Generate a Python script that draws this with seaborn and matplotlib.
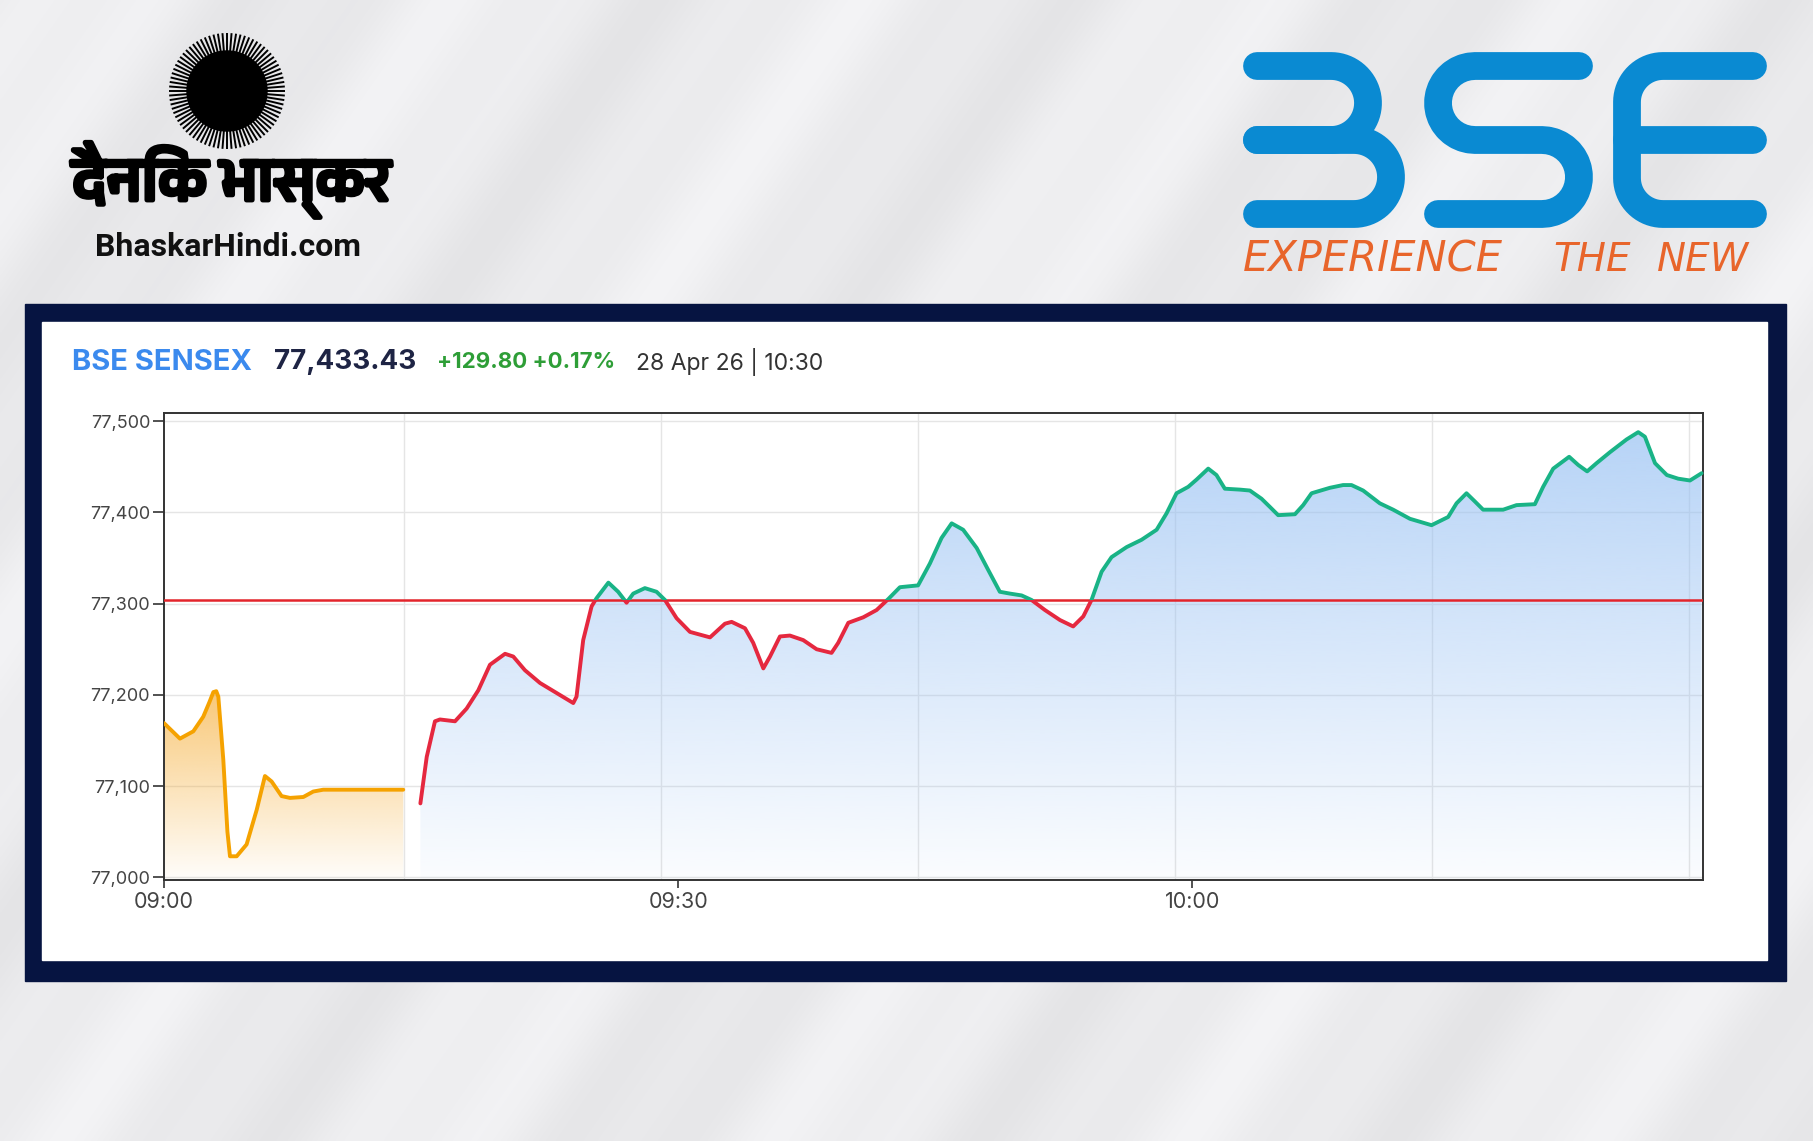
import numpy as np
import pandas as pd
import seaborn as sns
import matplotlib.pyplot as plt
import matplotlib.colors as mcolors
import matplotlib.patheffects as pe
from matplotlib.patches import Rectangle, Circle
from matplotlib.collections import LineCollection
from matplotlib import font_manager

# --- data: minutes after 09:00 ---
pre_min = [0, 0.93, 1.71, 2.29, 2.65, 2.88, 3.05, 3.17, 3.46, 3.7, 3.85, 4.24, 4.82, 5.41,
           5.89, 6.28, 6.86, 7.35, 8.13, 8.71, 9.29, 13.96]
pre_val = [77169, 77152, 77160, 77176, 77192, 77203, 77204, 77198, 77129, 77050, 77023,
           77023, 77036, 77074, 77111, 77105, 77089, 77087, 77088, 77094, 77096, 77096]

main_min = [14.96, 15.33, 15.81, 16.1, 16.98, 17.66, 18.34, 19.02, 19.9, 20.38, 21.06,
            21.94, 22.91, 23.88, 24.07, 24.46, 24.95, 25.24, 25.93, 26.5, 26.99, 27.38,
            28.06, 28.74, 29.23, 29.91, 30.69, 31.86, 32.73, 33.12, 33.9, 34.38, 34.97,
            35.36, 35.94, 36.52, 37.3, 38.08, 38.95, 39.34, 39.93, 40.8, 41.58, 42.26,
            42.94, 44.0, 44.69, 45.37, 45.96, 46.63, 47.42, 48.09, 48.77, 49.36, 50.04,
            50.62, 51.4, 52.28, 53.05, 53.64, 54.12, 54.71, 55.29, 56.17, 57.04, 57.92,
            58.5, 59.08, 59.76, 60.25, 60.93, 61.41, 61.9, 62.78, 63.36, 64.04, 64.53,
            65.01, 65.99, 66.47, 66.96, 68.03, 68.8, 69.29, 69.97, 70.94, 71.72, 72.7,
            73.96, 74.93, 75.42, 76.0, 76.49, 76.97, 78.14, 78.92, 79.99, 80.47, 81.06,
            81.99, 82.52, 83.04, 83.59, 84.37, 85.34, 86.02, 86.41, 87.0, 87.69, 88.35,
            89.04, 89.72]
main_val = [77081, 77132, 77171, 77173, 77171, 77185, 77205, 77233, 77245, 77242, 77227,
            77213, 77202, 77191, 77198, 77260, 77297, 77306, 77323, 77313, 77301, 77311,
            77317, 77313, 77304, 77284, 77269, 77263, 77278, 77280, 77273, 77257, 77229,
            77242, 77264, 77265, 77260, 77250, 77246, 77257, 77279, 77285, 77293, 77305,
            77318, 77320, 77344, 77372, 77388, 77381, 77361, 77337, 77313, 77311, 77309,
            77304, 77293, 77282, 77275, 77286, 77304, 77335, 77351, 77362, 77370, 77381,
            77399, 77421, 77428, 77436, 77448, 77441, 77426, 77425, 77424, 77415, 77406,
            77397, 77398, 77408, 77421, 77427, 77430, 77430, 77424, 77410, 77403, 77393,
            77386, 77395, 77410, 77421, 77412, 77403, 77403, 77408, 77409, 77428, 77448,
            77461, 77452, 77445, 77454, 77466, 77480, 77488, 77483, 77454, 77441, 77437,
            77435, 77443]

prev_close = 77303.63
ltp = 77433.43
change = 129.80
change_pct = 0.17
stamp = '28 Apr 26 | 10:30'

y_ticks = [77000, 77100, 77200, 77300, 77400, 77500]
x_ticks = [0, 30, 60]
x_labels = ['09:00', '09:30', '10:00']
grid_min = [14, 29, 44, 59, 74, 89]

W, H = 1813, 1141
sns.set_style('white')
plt.rcParams['font.family'] = ['Inter', 'DejaVu Sans']

fig = plt.figure(figsize=(W / 100, H / 100), dpi=100)

# backdrop, drawn in pixel coordinates
bg = fig.add_axes([0, 0, 1, 1])
bg.set_xlim(0, W)
bg.set_ylim(H, 0)
bg.axis('off')
yy, xx = np.mgrid[0:H:2, 0:W:2]
u = xx * np.sin(np.radians(55)) + yy * np.cos(np.radians(55))
lum = 0.925 + 0.02 * np.sin(2 * np.pi * u / 310) + 0.01 * np.sin(2 * np.pi * u / 115 + 0.7)
img = np.dstack([lum, lum, np.clip(lum + 0.008, 0, 1)])
bg.imshow(img, extent=[0, W, H, 0], aspect='auto', zorder=0, interpolation='bilinear')

bg.add_patch(Rectangle((25, 304), 1761, 677, color='#061441', zorder=1))
bg.add_patch(Rectangle((42, 322), 1725, 638, color='white', zorder=2))

# Dainik Bhaskar mark
sx, sy = 227, 91
bg.add_patch(Circle((sx, sy), 40, color='black', zorder=3))
ang = np.linspace(0, 2 * np.pi, 80, endpoint=False)
rays = [[(sx + 36 * np.cos(a), sy + 36 * np.sin(a)), (sx + 58 * np.cos(a), sy + 58 * np.sin(a))]
        for a in ang]
bg.add_collection(LineCollection(rays, colors='black', linewidths=1.4, zorder=3))
deva = [f.name for f in font_manager.fontManager.ttflist
        if 'Devanagari' in f.name or 'Lohit' in f.name or 'Mukta' in f.name]
if deva:
    bg.text(231, 180, 'दैनिक भास्कर', fontsize=44, fontweight='bold', ha='center',
            va='center', family=[deva[0], 'DejaVu Sans'], color='black', zorder=3,
            path_effects=[pe.withStroke(linewidth=3.5, foreground='black')])
bg.text(228, 247, 'BhaskarHindi.com', fontsize=23, fontweight='bold', ha='center',
        va='center', family=['Roboto', 'DejaVu Sans'], color='#111', zorder=3)


# BSE mark
def bowl(xl, xr, yt, yb, n=40):
    r = (yb - yt) / 2
    cx, cy = xr - r, (yt + yb) / 2
    t = np.linspace(np.pi / 2, -np.pi / 2, n)
    xs = [xl] + list(cx + r * np.cos(t)) + [xl]
    ys = [yt] + list(cy - r * np.sin(t)) + [yb]
    return xs, ys


def arc(cx, cy, r, a0, a1, n=20):
    t = np.radians(np.linspace(a0, a1, n))
    return list(cx + r * np.cos(t)), list(cy - r * np.sin(t))


blue = '#0a8ad2'
kw = dict(color=blue, lw=20, solid_capstyle='round', solid_joinstyle='round', zorder=3)
T, M, B = 66, 140, 214
for xs, ys in [bowl(1257, 1368, T, M), bowl(1257, 1391, M, B)]:
    bg.plot(xs, ys, **kw)
r = (M - T) / 2
ax1, ay1 = arc(1438 + r, (T + M) / 2, r, 90, 270)
ax2, ay2 = arc(1579 - r, (M + B) / 2, r, 90, -90)
bg.plot([1579] + ax1 + ax2 + [1438], [T] + ay1 + ay2 + [B], **kw)
r = 36
ex1, ey1 = arc(1627 + r, T + r, r, 90, 180)
ex2, ey2 = arc(1627 + r, B - r, r, 180, 270)
bg.plot([1753] + ex1 + ex2 + [1753], [T] + ey1 + ey2 + [B], **kw)
bg.plot([1627, 1753], [M, M], **kw)
for word, x0, fs in [('EXPERIENCE', 1243, 30), ('THE', 1553, 28), ('NEW', 1657, 28)]:
    bg.text(x0, 260, word, fontsize=fs, style='italic', fontweight='light', color='#e8652b',
            va='center', ha='left', family=['DejaVu Sans'], zorder=3)

# header line
hy = 362
bg.text(72, hy, 'BSE SENSEX', fontsize=21, fontweight='bold', color='#3b8aee', va='center', zorder=3)
bg.text(274, hy, f'{ltp:,.2f}', fontsize=20, fontweight='bold', color='#1e2444', va='center', zorder=3)
bg.text(437, hy, f'+{change:.2f} +{change_pct:.2f}%', fontsize=16, fontweight='bold',
        color='#2e9e37', va='center', zorder=3)
bg.text(636, hy, stamp, fontsize=16.5, color='#333333', va='center', zorder=3)

# chart
ax = fig.add_axes([164 / W, 1 - 880 / H, (1703 - 164) / W, (880 - 413) / H], zorder=5)
ax.set_facecolor('white')
y_lo, y_hi = 76997, 77509


def gradient_under(x, y, color, a_top, a_bot, y_top, z):
    fill = ax.fill_between(x, y, y_lo, color='none', lw=0)
    grad = np.zeros((200, 1, 4))
    grad[:, 0, :3] = mcolors.to_rgb(color)
    grad[:, 0, 3] = np.linspace(a_bot, a_top, 200)
    im = ax.imshow(grad, extent=[min(x), max(x), y_lo, y_top], origin='lower',
                   aspect='auto', zorder=z, interpolation='bicubic')
    im.set_clip_path(fill.get_paths()[0], transform=ax.transData)


for v in y_ticks:
    ax.axhline(v, color='#e5e5e5', lw=1, zorder=1)
for g in grid_min:
    ax.axvline(g, color='#e5e5e5', lw=1, zorder=1)

gradient_under(pre_min, pre_val, '#f5a623', 0.62, 0.02, 77205, 2)
gradient_under(main_min, main_val, '#96c0f3', 0.7, 0.04, 77500, 2)

ax.axhline(prev_close, color='#e3242b', lw=1.8, zorder=4)

line_kw = dict(ax=ax, lw=2.8, estimator=None, sort=False, zorder=6,
               solid_joinstyle='round', solid_capstyle='round')
sns.lineplot(x=pre_min, y=pre_val, color='#f5a200', **line_kw)
sns.lineplot(x=main_min, y=main_val, color='#19b386', **line_kw)
ax.lines[-1].set_clip_path(Rectangle((-10, prev_close), 200, 1000, transform=ax.transData))
sns.lineplot(x=main_min, y=main_val, color='#e5283f', **line_kw)
ax.lines[-1].set_clip_path(Rectangle((-10, prev_close - 1000), 200, 1000, transform=ax.transData))

ax.set_xlim(0, 89.8)
ax.set_ylim(y_lo, y_hi)
ax.set_yticks(y_ticks)
ax.set_yticklabels([f'{v:,}' for v in y_ticks])
ax.set_xticks(x_ticks)
ax.set_xticklabels(x_labels)
ax.set_xlabel('')
ax.set_ylabel('')
ax.tick_params(axis='y', left=True, length=8, width=1.2, color='#333333', labelsize=13,
               labelcolor='#444444', pad=2)
ax.tick_params(axis='x', bottom=True, length=6, width=1.2, color='#333333', labelsize=15.5,
               labelcolor='#444444', pad=3)
for s in ax.spines.values():
    s.set_visible(True)
    s.set_color('#333333')
    s.set_linewidth(1.4)

fig.savefig('out.png', dpi=100)
